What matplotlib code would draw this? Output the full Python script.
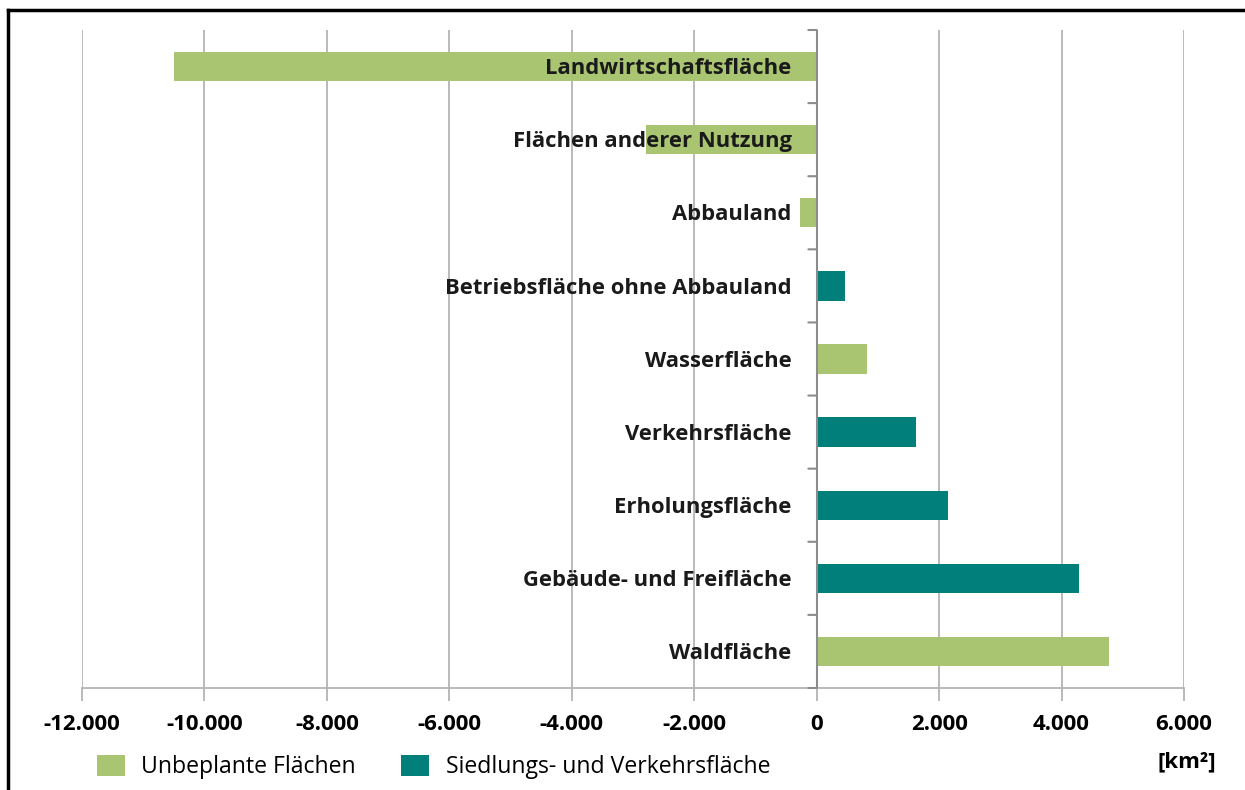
import matplotlib
matplotlib.use("Agg")
import matplotlib.pyplot as plt
from matplotlib.patches import Patch
from matplotlib.lines import Line2D

# Data (km²)
categories = [
    "Landwirtschaftsfläche",
    "Flächen anderer Nutzung",
    "Abbauland",
    "Betriebsfläche ohne Abbauland",
    "Wasserfläche",
    "Verkehrsfläche",
    "Erholungsfläche",
    "Gebäude- und Freifläche",
    "Waldfläche",
]
values = [-10500, -2780, -280, 470, 830, 1620, 2140, 4290, 4770]
groups = ["U", "U", "U", "S", "U", "S", "S", "S", "U"]

xticks = [-12000, -10000, -8000, -6000, -4000, -2000, 0, 2000, 4000, 6000]
xticklabels = ["-12.000", "-10.000", "-8.000", "-6.000", "-4.000", "-2.000",
               "0", "2.000", "4.000", "6.000"]

legend_labels = {"U": "Unbeplante Flächen", "S": "Siedlungs- und Verkehrsfläche"}
colors = {"U": "#A9C571", "S": "#007F7B"}

plt.rcParams["font.family"] = ["Open Sans", "DejaVu Sans"]

fig = plt.figure(figsize=(12.45, 7.9), dpi=100)
ax = fig.add_axes([82 / 1245, 102 / 790, 1102 / 1245, 658 / 790])

n = len(categories)
ypos = list(range(n))
ax.barh(ypos, values, height=0.4,
        color=[colors[g] for g in groups], zorder=3)

ax.set_xlim(-12000, 6000)
ax.set_ylim(n - 0.5, -0.5)

# vertical gridlines
ax.set_xticks(xticks)
ax.set_xticklabels(xticklabels, fontsize=16, fontweight="bold")
ax.xaxis.grid(True, color="#b4b4b4", linewidth=1.3, zorder=0)
ax.tick_params(axis="x", length=9, width=1.3, color="#b4b4b4", pad=10)

for s in ["top", "right", "left"]:
    ax.spines[s].set_visible(False)
ax.spines["bottom"].set_color("#b4b4b4")
ax.spines["bottom"].set_linewidth(1.3)

# category axis at zero with ticks between categories
ax.set_yticks([])
ax.axvline(0, color="#8c8c8c", linewidth=1.5, zorder=4)
for b in [i - 0.5 for i in range(n + 1)]:
    ax.annotate("", xy=(0, b), xycoords="data",
                xytext=(-6, 0), textcoords="offset points",
                arrowprops=dict(arrowstyle="-", color="#8c8c8c", lw=1.5,
                                shrinkA=0, shrinkB=0))

# category labels right-aligned next to zero axis
for y, lab in zip(ypos, categories):
    ax.annotate(lab, xy=(0, y + 0.03), xycoords="data",
                xytext=(-18, 0), textcoords="offset points",
                ha="right", va="center", fontsize=15.8, fontweight="bold",
                color="#1a1a1a", zorder=5)

# legend
handles = [Patch(facecolor=colors[k], edgecolor="none", label=legend_labels[k])
           for k in ["U", "S"]]
fig.legend(handles=handles, loc="lower left",
           bbox_to_anchor=(97 / 1245, 11 / 790), ncol=2, frameon=False,
           borderpad=0, borderaxespad=0,
           fontsize=16.6, handlelength=1.21, handleheight=1.04,
           handletextpad=0.72, columnspacing=1.95)

fig.text(1187 / 1245, 28 / 790, "[km²]", ha="center", va="center",
         fontsize=16, fontweight="bold")

# outer frame (top and left edges)
fig.add_artist(Line2D([8 / 1245, 1], [1 - 10 / 790, 1 - 10 / 790],
                      transform=fig.transFigure, color="black", linewidth=2.5))
fig.add_artist(Line2D([8 / 1245, 8 / 1245], [0, 1 - 10 / 790],
                      transform=fig.transFigure, color="black", linewidth=2.5))

fig.savefig("out.png", dpi=100)
